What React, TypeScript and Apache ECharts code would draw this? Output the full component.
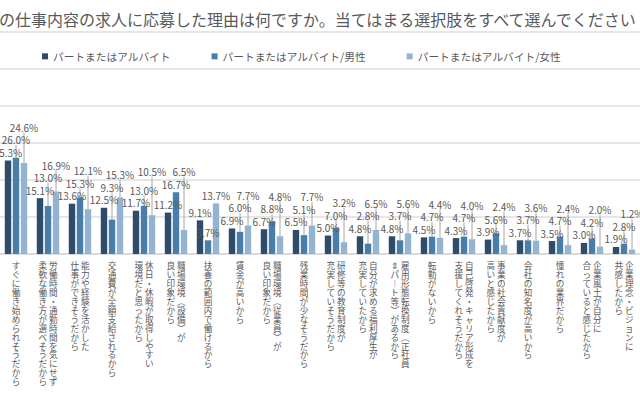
import React, { useEffect, useRef } from "react";
import * as echarts from "echarts";

const FONT = '"Noto Sans CJK JP", "Noto Sans", sans-serif';

const titleText =
  "の仕事内容の求人に応募した理由は何ですか。当てはまる選択肢をすべて選んでください";

const seriesNames = [
  "パートまたはアルバイト",
  "パートまたはアルバイト/男性",
  "パートまたはアルバイト/女性",
];

const categories = [
  "すぐに働き始められそうだから",
  "労働時間・通勤時間を気にせず\n柔軟な働き方が選べそうだから",
  "能力や経験を活かした\n仕事ができそうだから",
  "交通費が全額支給されるから",
  "休日・休暇が取得しやすい\n環境だと思ったから",
  "職場環境（設備）が\n良い印象だから",
  "扶養の範囲内で働けるから",
  "賃金が高いから",
  "職場環境（従業員）が\n良い印象だから",
  "残業時間が少なそうだから",
  "研修等の教育制度が\n充実していそうだから",
  "自分が求める福利厚生が\n充実していたから",
  "雇用形態転換制度（正社員\n⇔パート等）があるから",
  "転勤がないから",
  "自己啓発・キャリア形成を\n支援してくれそうだから",
  "事業の社会貢献度が\n高いと感じたから",
  "会社の知名度が高いから",
  "憧れの業界だから",
  "企業風土が自分に\n合っていると感じたから",
  "企業理念・ビジョンに\n共感したから",
];

const allValues = [25.3, 15.1, 13.6, 12.5, 11.7, 11.2, 9.1, 6.9, 6.7, 6.5, 5.0, 4.8, 4.8, 4.5, 4.3, 3.9, 3.7, 3.5, 3.0, 1.9];
const maleValues = [26.0, 13.0, 15.3, 9.3, 13.0, 16.7, 3.7, 6.0, 8.8, 5.1, 7.0, 2.8, 3.7, 4.7, 4.7, 5.6, 3.7, 4.7, 4.2, 2.8];
const femaleValues = [24.6, 16.9, 12.1, 15.3, 10.5, 6.5, 13.7, 7.7, 4.8, 7.7, 3.2, 6.5, 5.6, 4.4, 4.0, 2.4, 3.6, 2.4, 2.0, 1.2];

const seriesValues = [allValues, maleValues, femaleValues];
const colors = ["#2e4b69", "#4a7eaa", "#93b3d3"];

// layout constants (shared with the option)
const GRID_LEFT = -2;
const GRID_TOP = 32;
const GRID_W = 654;
const GRID_H = 222;
const Y_MAX = 60;
const BAR_GAP = 0.25;
const CAT_GAP = 0.3;
const LABEL_FONT = 10;
const LABEL_H = 12.5;

function textWidth(t: string): number {
  let w = 0;
  for (const c of t) w += c === "%" ? 0.85 : c === "." ? 0.27 : 0.56;
  return w * LABEL_FONT + 1;
}

// Greedy label de-overlap, in pixels, derived from the data and the axis scale.
function computeLabelLifts(): number[][] {
  const n = categories.length;
  const catPx = GRID_W / n;
  const unitPx = GRID_H / Y_MAX;
  const barW = (catPx * (1 - CAT_GAP)) / (3 + 2 * BAR_GAP);
  const placed: { x: number; w: number; y: number }[] = [];
  const lifts = seriesValues.map(() => new Array(n).fill(0));
  for (let s = 0; s < seriesValues.length; s++) {
    for (let i = 0; i < n; i++) {
      const v = seriesValues[s][i];
      const x = (i + 0.5) * catPx + (s - 1) * barW * (1 + BAR_GAP);
      const w = textWidth(v.toFixed(1) + "%");
      const nat = v * unitPx;
      let y = nat;
      for (let iter = 0; iter < 50; iter++) {
        let moved = false;
        for (const p of placed) {
          if (
            Math.abs(p.x - x) < (p.w + w) / 2 - 2 &&
            Math.abs(p.y - y) < LABEL_H - 0.01
          ) {
            y = p.y + LABEL_H;
            moved = true;
          }
        }
        if (!moved) break;
      }
      placed.push({ x, w, y });
      lifts[s][i] = y - nat;
    }
  }
  return lifts;
}
const labelLifts = computeLabelLifts();

const vertMap: Record<string, string> = {
  "（": "︵",
  "）": "︶",
  "ー": "︱",
  "⇔": "⇕",
};

function verticalLabel(v: string): string {
  const lines = v.split("\n").map((l) => Array.from(l).map((c) => vertMap[c] ?? c));
  const n = Math.max(...lines.map((l) => l.length));
  const cols = lines.slice().reverse();
  const rows: string[] = [];
  for (let r = 0; r < n; r++) {
    rows.push(cols.map((c) => `{c|${c[r] ?? "　"}}`).join(""));
  }
  return rows.join("\n");
}

export default function App() {
  const ref = useRef<HTMLDivElement>(null);
  useEffect(() => {
    if (!ref.current) return;
    const chart = echarts.init(ref.current, undefined, { renderer: "svg" });
    chart.setOption({
      animation: false,
      backgroundColor: "#ffffff",
      textStyle: { fontFamily: FONT },
      title: {
        text: titleText,
        left: -1,
        top: 11,
        padding: 0,
        textStyle: { fontSize: 16, fontWeight: "normal", color: "#595959", fontFamily: FONT },
      },
      legend: {
        left: 37,
        top: 46,
        icon: "rect",
        itemWidth: 6,
        itemHeight: 6,
        itemGap: 41,
        textStyle: { color: "#595959", fontSize: 10.7, fontFamily: FONT },
        data: seriesNames,
      },
      grid: { left: GRID_LEFT, top: GRID_TOP, width: GRID_W, height: GRID_H, containLabel: false },
      xAxis: {
        type: "category",
        data: categories,
        axisTick: { show: false },
        axisLine: { show: true, lineStyle: { color: "#d9d9d9", width: 1.5 } },
        axisLabel: {
          interval: 0,
          margin: 7,
          formatter: verticalLabel,
          rich: {
            c: {
              width: 10.5,
              align: "center",
              fontSize: 8.6,
              lineHeight: 8.9,
              color: "#595959",
              fontFamily: FONT,
            },
          },
        },
      },
      yAxis: {
        type: "value",
        min: 0,
        max: Y_MAX,
        interval: 10,
        axisLabel: { show: false },
        axisLine: { show: false },
        axisTick: { show: false },
        splitLine: { lineStyle: { color: "#dedede", width: 1.5 } },
      },
      series: seriesValues.map((vals, s) => ({
        name: seriesNames[s],
        type: "bar",
        barGap: `${BAR_GAP * 100}%`,
        barCategoryGap: `${CAT_GAP * 100}%`,
        itemStyle: { color: colors[s] },
        data: vals.map((v, i) => ({
          value: v,
          labelLine: { show: labelLifts[s][i] > 0.5 },
        })),
        label: {
          show: true,
          position: "top",
          distance: 3,
          formatter: (p: any) => `${Number(p.value).toFixed(1)}%`,
          color: "#595959",
          fontSize: LABEL_FONT,
          fontFamily: FONT,
        },
        labelLine: { show: true, lineStyle: { color: "#a6a6a6", width: 1 } },
        labelLayout: (params: any) => ({
          dy: -labelLifts[params.seriesIndex][params.dataIndex],
        }),
      })),
    });
    return () => chart.dispose();
  }, []);
  return (
    <div
      ref={ref}
      style={{ position: "fixed", left: 0, top: 0, width: 640, height: 394 }}
    />
  );
}
